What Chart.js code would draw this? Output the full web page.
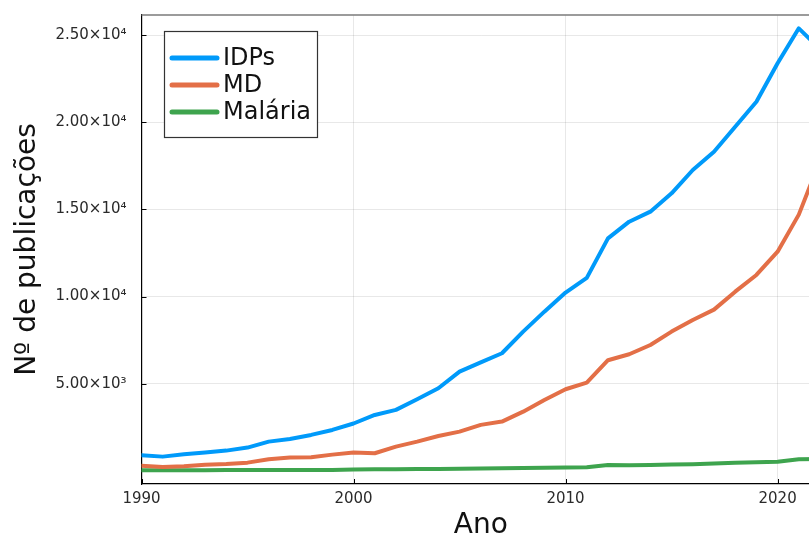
<!DOCTYPE html>
<html>
<head>
<meta charset="utf-8">
<script src="https://cdn.jsdelivr.net/npm/chart.js@4.4.1/dist/chart.umd.min.js"></script>
<style>
  html, body { margin: 0; padding: 0; background: #fff; overflow: hidden; }
  #wrap { width: 809px; height: 540px; overflow: hidden; position: relative; }
  canvas { display: block; }
</style>
</head>
<body>
<div id="wrap"><canvas id="c" width="830" height="540"></canvas></div>
<script>
// Publications per year
const years = [1990, 1991, 1992, 1993, 1994, 1995, 1996, 1997, 1998, 1999,
               2000, 2001, 2002, 2003, 2004, 2005, 2006, 2007, 2008, 2009,
               2010, 2011, 2012, 2013, 2014, 2015, 2016, 2017, 2018, 2019,
               2020, 2021, 2022];
const idps = [900, 820, 950, 1050, 1165, 1340, 1680, 1835, 2065, 2350,
              2720, 3210, 3500, 4110, 4740, 5695, 6230, 6750, 7990, 9135,
              10230, 11070, 13340, 14295, 14870, 15920, 17260, 18310, 19740, 21175,
              23380, 25385, 24200];
const md = [290, 220, 270, 360, 400, 475, 670, 765, 785, 935,
            1060, 1015, 1395, 1680, 2000, 2255, 2640, 2830, 3400, 4070,
            4685, 5065, 6350, 6690, 7225, 7990, 8660, 9250, 10280, 11240,
            12575, 14700, 17800];
const malaria = [40, 40, 45, 45, 50, 50, 55, 55, 60, 60,
                 80, 95, 100, 110, 115, 125, 135, 150, 165, 180,
                 200, 215, 335, 325, 345, 365, 385, 430, 470, 500,
                 530, 665, 680];

const seriesNames = ['IDPs', 'MD', 'Malária'];
const seriesColors = ['#009AFA', '#E36F47', '#3EA44E'];
const xTicks = [1990, 2000, 2010, 2020];
const yTicks = [5000, 10000, 15000, 20000, 25000];

const FONT = 'DejaVu Sans';
const SUP = { '0': '⁰', '1': '¹', '2': '²', '3': '³', '4': '⁴', '5': '⁵', '6': '⁶', '7': '⁷', '8': '⁸', '9': '⁹', '-': '⁻' };

function sciLabel(v) {
  const e = Math.floor(Math.log10(Math.abs(v)));
  const m = v / Math.pow(10, e);
  const sup = String(e).split('').map(ch => SUP[ch]).join('');
  return m.toFixed(2) + '×10' + sup;
}

const toPoints = vals => years.map((y, i) => ({ x: y, y: vals[i] }));

function noEdgePadding(s) {
  s.paddingTop = 0; s.paddingBottom = 0; s.paddingLeft = 0; s.paddingRight = 0;
}

// Frame, inward tick marks and boxed legend
const decorations = {
  id: 'decorations',
  afterDatasetsDraw(chart) {
    const { ctx, chartArea: a, scales } = chart;
    ctx.save();
    // top frame line
    ctx.strokeStyle = '#7a7a7a';
    ctx.lineWidth = 1.5;
    ctx.beginPath();
    ctx.moveTo(a.left, a.top);
    ctx.lineTo(a.right, a.top);
    ctx.stroke();
    // inward ticks
    ctx.strokeStyle = '#000';
    ctx.lineWidth = 1;
    yTicks.forEach(v => {
      const py = Math.round(scales.y.getPixelForValue(v)) + 0.5;
      ctx.beginPath();
      ctx.moveTo(a.left, py);
      ctx.lineTo(a.left + 5, py);
      ctx.stroke();
    });
    xTicks.forEach(v => {
      const px = Math.round(scales.x.getPixelForValue(v)) + 0.5;
      ctx.beginPath();
      ctx.moveTo(px, a.bottom);
      ctx.lineTo(px, a.bottom - 5);
      ctx.stroke();
    });
    // legend
    const lx = 164.5, ly = 31.5, lw = 153, lh = 106;
    ctx.fillStyle = '#fff';
    ctx.fillRect(lx, ly, lw, lh);
    ctx.strokeStyle = '#333';
    ctx.lineWidth = 1.2;
    ctx.strokeRect(lx, ly, lw, lh);
    ctx.font = '24px "' + FONT + '"';
    ctx.textBaseline = 'middle';
    ctx.textAlign = 'left';
    chart.data.datasets.forEach((ds, i) => {
      const cy = 58 + i * 27;
      ctx.strokeStyle = ds.borderColor;
      ctx.lineWidth = 5;
      ctx.lineCap = 'round';
      ctx.beginPath();
      ctx.moveTo(172, cy);
      ctx.lineTo(217, cy);
      ctx.stroke();
      ctx.fillStyle = '#111';
      ctx.fillText(ds.label, 223, cy + 1);
    });
    ctx.restore();
  }
};

new Chart(document.getElementById('c'), {
  type: 'line',
  data: {
    datasets: [idps, md, malaria].map((vals, i) => ({
      label: seriesNames[i],
      data: toPoints(vals),
      borderColor: seriesColors[i],
      backgroundColor: seriesColors[i],
      borderWidth: 4,
      pointRadius: 0,
      tension: 0,
      borderCapStyle: 'round',
      borderJoinStyle: 'round',
      fill: false
    }))
  },
  options: {
    responsive: false,
    animation: false,
    devicePixelRatio: 1,
    layout: { padding: { left: 0, right: 10, top: 15, bottom: 0 } },
    plugins: { legend: { display: false }, tooltip: { enabled: false } },
    scales: {
      x: {
        type: 'linear',
        min: 1990,
        max: 2022,
        afterBuildTicks: s => { s.ticks = xTicks.map(v => ({ value: v })); },
        afterFit: s => { s.height = 56; noEdgePadding(s); },
        grid: { color: 'rgba(0,0,0,0.09)', lineWidth: 1, drawTicks: false },
        border: { display: true, color: '#000', width: 1.2 },
        ticks: {
          padding: 6,
          color: '#2a2a2a',
          font: { family: FONT, size: 15 },
          maxRotation: 0,
          callback: v => String(v)
        },
        title: {
          display: true,
          text: 'Ano',
          color: '#111',
          font: { family: FONT, size: 28, lineHeight: 1 },
          padding: { top: 0, bottom: 0 }
        }
      },
      y: {
        type: 'linear',
        min: -750,
        max: 26150,
        afterBuildTicks: s => { s.ticks = yTicks.map(v => ({ value: v })); },
        afterFit: s => { s.width = 141.5; noEdgePadding(s); },
        grid: { color: 'rgba(0,0,0,0.09)', lineWidth: 1, drawTicks: false },
        border: { display: true, color: '#000', width: 1.2 },
        ticks: {
          padding: 15,
          color: '#2a2a2a',
          font: { family: FONT, size: 15 },
          callback: v => sciLabel(v)
        },
        title: {
          display: true,
          text: 'Nº de publicações',
          color: '#111',
          font: { family: FONT, size: 28, lineHeight: 1 },
          padding: { top: 14, bottom: 0 }
        }
      }
    }
  },
  plugins: [decorations]
});
</script>
</body>
</html>
